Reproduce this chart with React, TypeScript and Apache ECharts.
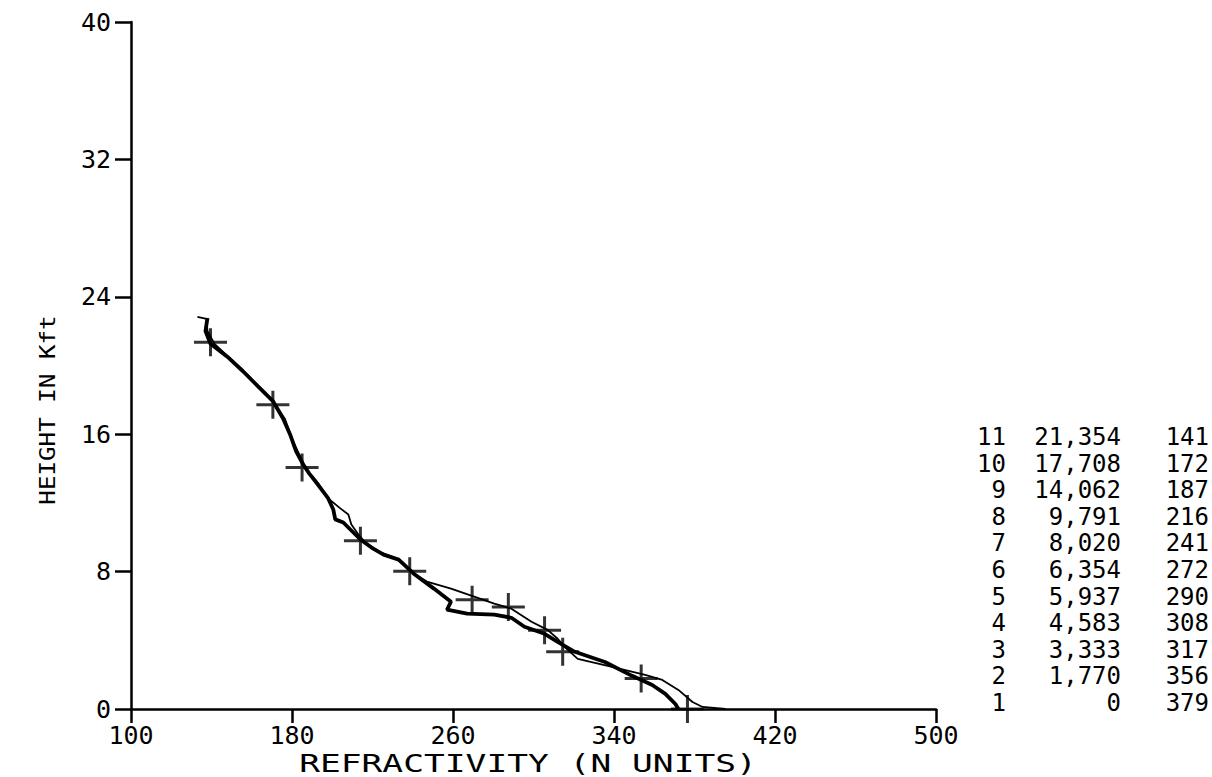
import React, { useEffect, useRef } from "react";
import * as echarts from "echarts";

// Reference stations listed in the table: index, height (ft), refractivity (N units)
const stationIndex = [1, 2, 3, 4, 5, 6, 7, 8, 9, 10, 11];
const stationHeightFt = [0, 1770, 3333, 4583, 5937, 6354, 8020, 9791, 14062, 17708, 21354];
const stationN = [379, 356, 317, 308, 290, 272, 241, 216, 187, 172, 141];

// "+" marks as plotted in the picture (N units, height kft)
const markN = [376.5, 353.5, 314.5, 305.5, 287.5, 269.5, 238.5, 214, 185, 170.5, 139.5];
const markH = [0, 1.77, 3.333, 4.583, 5.937, 6.354, 8.02, 9.791, 14.062, 17.708, 21.354];

// Thick measured profile (N units, height kft)
const thickN = [138, 137, 139.5, 148, 155.5, 163, 170.5, 175.5, 179, 182, 185.5, 188.5, 192, 198, 200.5, 201.5, 205.5, 209, 214, 219.5, 225.5, 233, 240.5, 250.5, 259, 257, 267, 280.5, 289, 295.5, 305.5, 312, 320.5, 335.5, 349, 359, 365.5, 370.5, 372];
const thickH = [22.77, 22.01, 21.26, 20.5, 19.68, 18.8, 17.93, 16.93, 16.0, 15.01, 14.25, 13.72, 13.2, 12.26, 11.62, 11.04, 10.86, 10.45, 9.87, 9.4, 8.99, 8.7, 7.88, 7.01, 6.25, 5.78, 5.55, 5.49, 5.31, 4.79, 4.38, 3.91, 3.33, 2.74, 1.93, 1.4, 0.88, 0.29, 0];

// Thin measured profile (N units, height kft)
const thinN = [133, 137.5, 138, 141.5, 149.5, 158, 165.5, 171.5, 176.5, 180.5, 184, 187, 193, 198, 204, 208, 209.5, 213, 216.5, 223, 232, 240.5, 247, 259, 270.5, 280.5, 289, 299, 307, 312, 316.5, 322, 339, 355.5, 364, 372, 379, 384, 395.5];
const thinH = [22.83, 22.72, 22.01, 21.26, 20.38, 19.45, 18.51, 17.75, 16.88, 15.59, 14.72, 13.96, 13.14, 12.26, 11.68, 11.33, 10.74, 10.16, 9.69, 9.17, 8.76, 7.88, 7.42, 7.01, 6.54, 6.13, 5.84, 5.08, 4.61, 4.09, 3.5, 2.92, 2.45, 1.99, 1.69, 1.11, 0.41, 0.12, 0];

const xTitle = "REFRACTIVITY (N UNITS)";
const yTitle = "HEIGHT IN Kft";

const MONO = '"DejaVu Sans Mono", monospace';

export default function App() {
  const ref = useRef<HTMLDivElement>(null);

  useEffect(() => {
    if (!ref.current) return;
    const chart = echarts.init(ref.current, null, { renderer: "svg" });

    const plusPath = "path://M0,12.5H33V15.5H0Z M15,0H18V28H15Z";

    const tableGraphics: any[] = [];
    const order = stationIndex.map((_, i) => i).reverse();
    order.forEach((i, k) => {
      const y = 437 + k * 26.6;
      const font = `24px ${MONO}`;
      tableGraphics.push(
        { type: "text", x: 1006, y, style: { text: String(stationIndex[i]), align: "right", verticalAlign: "middle", font, fill: "#000" } },
        { type: "text", x: 1121, y, style: { text: stationHeightFt[i].toLocaleString("en-US"), align: "right", verticalAlign: "middle", font, fill: "#000" } },
        { type: "text", x: 1209, y, style: { text: String(stationN[i]), align: "right", verticalAlign: "middle", font, fill: "#000" } }
      );
    });

    chart.setOption({
      animation: false,
      backgroundColor: "#fff",
      grid: { left: 131, right: 276, top: 22, bottom: 68, containLabel: false },
      xAxis: {
        type: "value",
        min: 100,
        max: 500,
        interval: 80,
        axisLine: { show: true, onZero: false, lineStyle: { color: "#000", width: 2.5 } },
        axisTick: { show: true, length: 14, lineStyle: { color: "#000", width: 2.5 } },
        axisLabel: { margin: 14, fontFamily: MONO, fontSize: 25, color: "#000" },
        splitLine: { show: false },
      },
      yAxis: {
        type: "value",
        min: 0,
        max: 40,
        interval: 8,
        axisLine: { show: true, onZero: false, lineStyle: { color: "#000", width: 2.5 } },
        axisTick: { show: true, length: 16, lineStyle: { color: "#000", width: 2.5 } },
        axisLabel: { margin: 20, fontFamily: MONO, fontSize: 25, color: "#000" },
        splitLine: { show: false },
      },
      series: [
        {
          type: "line",
          data: thinN.map((n, i) => [n, thinH[i]]),
          showSymbol: false,
          lineStyle: { color: "#000", width: 1.8 },
          z: 2,
        },
        {
          type: "line",
          data: thickN.map((n, i) => [n, thickH[i]]),
          showSymbol: false,
          lineStyle: { color: "#000", width: 3.8 },
          z: 3,
        },
        {
          type: "scatter",
          data: markN.map((n, i) => [n, markH[i]]),
          symbol: plusPath,
          symbolSize: [33, 28],
          itemStyle: { color: "#000" },
          z: 4,
        },
      ],
      graphic: [
        {
          type: "text",
          x: 528,
          y: 764,
          scaleX: 1.44,
          style: { text: xTitle, align: "center", verticalAlign: "middle", font: `24px ${MONO}`, fill: "#000" },
        },
        {
          type: "text",
          x: 47,
          y: 410,
          rotation: Math.PI / 2,
          scaleX: 1.1,
          style: { text: yTitle, align: "center", verticalAlign: "middle", font: `22px ${MONO}`, fill: "#000" },
        },
        ...tableGraphics,
      ],
    });

    return () => chart.dispose();
  }, []);

  return (
    <div
      ref={ref}
      style={{ position: "fixed", left: 0, top: 0, width: 1212, height: 777, background: "#fff" }}
    />
  );
}
